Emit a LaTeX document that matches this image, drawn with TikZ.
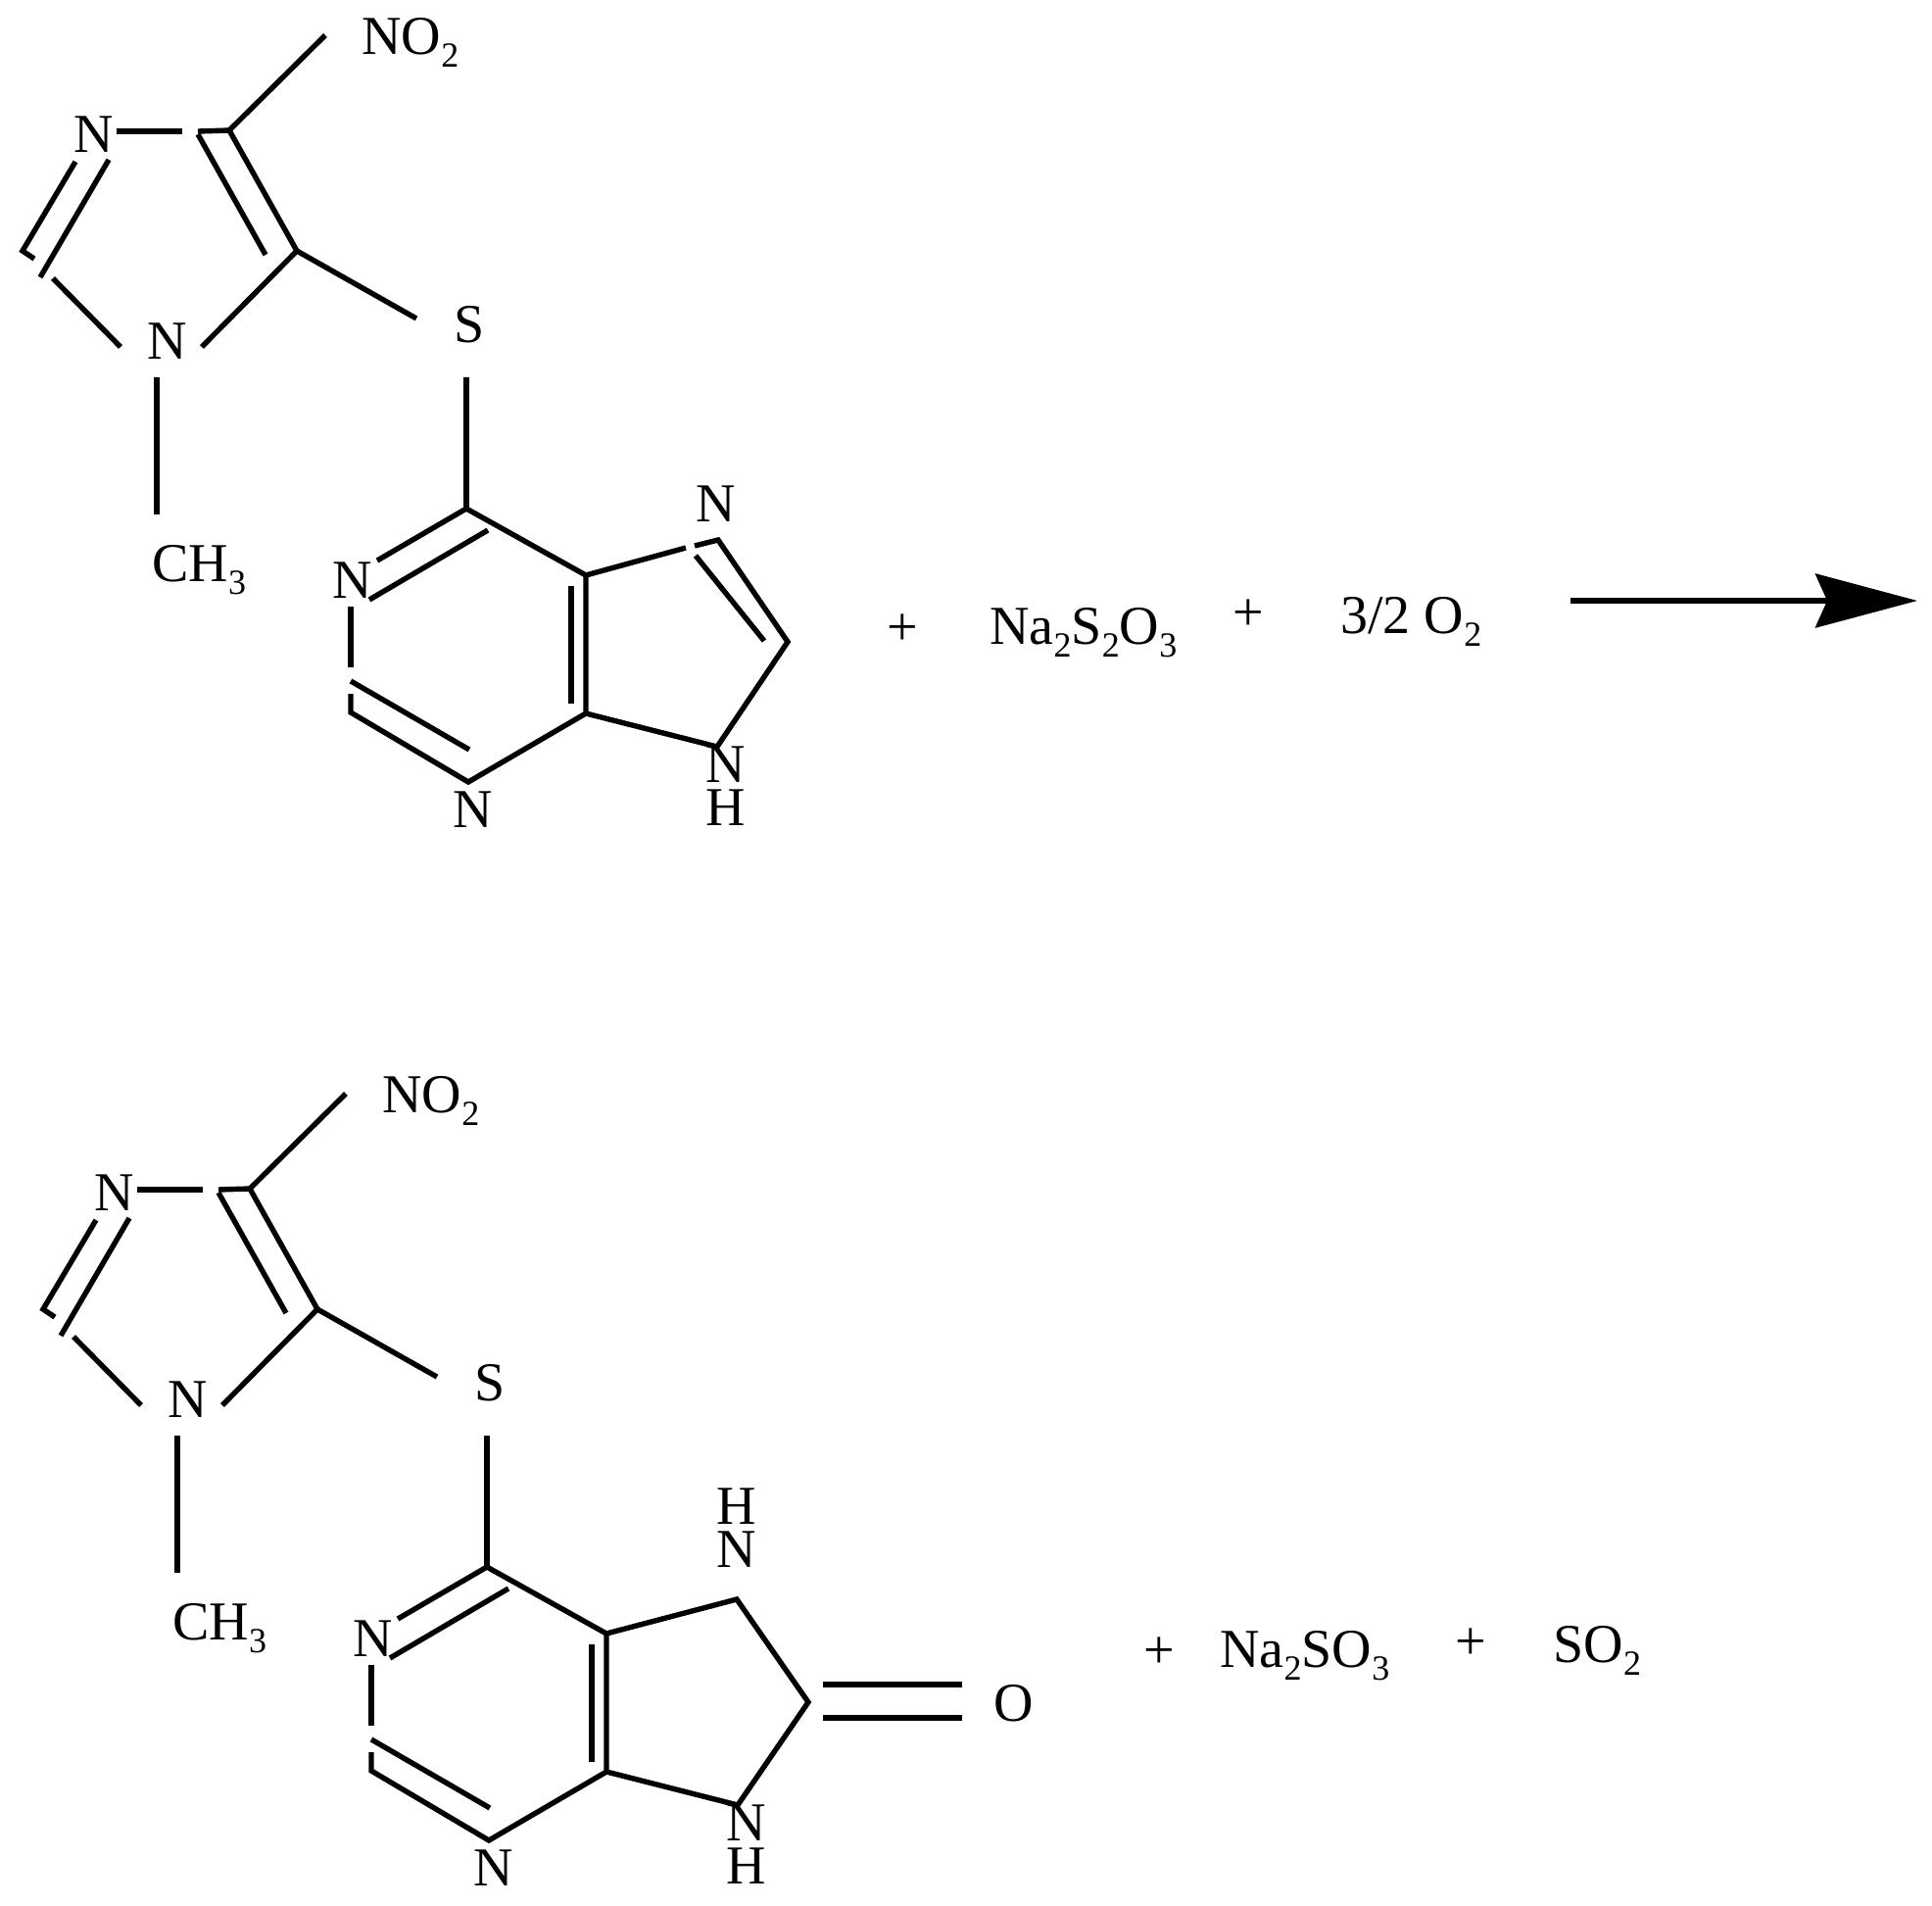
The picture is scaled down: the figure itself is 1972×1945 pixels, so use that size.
\documentclass[tikz,border=0pt]{standalone}
\usepackage{fontspec}
\setmainfont{Liberation Serif}
\usetikzlibrary{arrows.meta}
\newcommand{\sbs}[1]{\raisebox{-0.24em}{\fontsize{18}{18}\selectfont #1}}
\tikzset{
  bond/.style={line width=2.7pt},
  atom/.style={inner sep=0pt,font=\fontsize{28}{28}\selectfont},
  stack/.style={inner sep=0pt,align=center,font=\fontsize{28}{22}\selectfont},
  formula/.style={atom,anchor=base west}
}

\begin{document}
\begin{tikzpicture}[x=0.5pt,y=-0.5pt]
    \useasboundingbox (0,0) rectangle (1972,1945);
    \foreach \m/\dx/\dy in {t/0/-1,b/21/1079}
    { \begin{scope}[shift={(\dx,\dy)},name prefix=\m-]
        % imidazole part
        \coordinate (cfour) at (234,134);
        \coordinate (cfive) at (303,257);
        \coordinate (ctwo) at (23,257);
        \coordinate (ctwoi) at (35,265);
        \coordinate (nthreer) at (119,135);
        \coordinate (nthreem) at (186,135);
        \coordinate (cfourm) at (202,135);
        \coordinate (nthreel) at (77,166);
        \coordinate (nthreei) at (111,164);
        \coordinate (ctwoo) at (41,284);
        \coordinate (ctwob) at (54,285);
        \coordinate (nonel) at (123,355);
        \coordinate (noner) at (206,355);
        \coordinate (noneb) at (160,386);
        \coordinate (metht) at (160,526);
        \coordinate (nitro) at (332,37);
        \coordinate (cfouri) at (202,138);
        \coordinate (cfivei) at (271,261);
        \coordinate (sulfl) at (425,326);
        \coordinate (sulfb) at (476,386);
        % pyrimidine part
        \coordinate (csix) at (476,520);
        \coordinate (nsevr) at (385,573);
        \coordinate (csixi) at (498,542);
        \coordinate (nsevi) at (377,613);
        \coordinate (cjoina) at (598,588);
        \coordinate (cjoinb) at (598,729);
        \coordinate (cjoinc) at (583,599);
        \coordinate (cjoind) at (583,719);
        \coordinate (cbot) at (478,799);
        \coordinate (cleft) at (358,728);
        \coordinate (cleftt) at (358,709);
        \coordinate (nsevb) at (358,620);
        \coordinate (nsevc) at (358,682);
        \coordinate (clefti) at (358,696);
        \coordinate (cboti) at (479,766);
        \coordinate (nhtop) at (732,763);
        \node[atom] (nthree) at (96,138) {N};
        \node[atom] (none) at (171,349) {N};
        \node[atom] (sulf) at (479,332) {S};
        \node[atom] (nsev) at (360,593) {N};
        \node[atom] (nbot) at (483,827) {N};
        \node[stack] (nh) at (741,803) {N\\H};
        \node[formula] (no) at (369,56) {NO\sbs{2}};
        \node[formula] (meth) at (155,594) {CH\sbs{3}};
        \draw [bond] (nthreer) -- (nthreem);
        \draw [bond] (cfourm) -- (cfour) -- (cfive) -- (noner);
        \draw [bond] (cfour) -- (nitro);
        \draw [bond] (cfouri) -- (cfivei);
        \draw [bond] (cfive) -- (sulfl);
        \draw [bond] (nthreel) -- (ctwo) -- (ctwoi);
        \draw [bond] (nthreei) -- (ctwoo);
        \draw [bond] (ctwob) -- (nonel);
        \draw [bond] (noneb) -- (metht);
        \draw [bond] (sulfb) -- (csix);
        \draw [bond] (nsevr) -- (csix) -- (cjoina) -- (cjoinb) -- (cbot) -- (cleft) -- (cleftt);
        \draw [bond] (csixi) -- (nsevi);
        \draw [bond] (cjoinc) -- (cjoind);
        \draw [bond] (nsevb) -- (nsevc);
        \draw [bond] (clefti) -- (cboti);
        \draw [bond] (cjoinb) -- (nhtop);
      \end{scope}
    }
    % five ring of the first molecule
    \coordinate (ringa) at (700,559);
    \coordinate (ringb) at (709,557);
    \coordinate (ringc) at (733,551);
    \coordinate (ringd) at (804,655);
    \coordinate (ringe) at (710,567);
    \coordinate (ringf) at (780,654);
    \node[atom] (nring) at (731,514) {N};
    \draw [bond] (t-cjoina) -- (ringa);
    \draw [bond] (ringb) -- (ringc) -- (ringd) -- (t-nhtop);
    \draw [bond] (ringe) -- (ringf);
    % five ring of the second molecule
    \coordinate (ketoa) at (752,1632);
    \coordinate (ketob) at (825,1737);
    \coordinate (ketoc) at (840,1719);
    \coordinate (ketod) at (982,1719);
    \coordinate (ketoe) at (840,1753);
    \coordinate (ketof) at (982,1753);
    \node[stack] (hring) at (752,1559) {H\\N};
    \node[atom] (oxy) at (1035,1738) {O};
    \draw [bond] (b-cjoina) -- (ketoa) -- (ketob) -- (b-nhtop);
    \draw [bond] (ketoc) -- (ketod);
    \draw [bond] (ketoe) -- (ketof);
    % the other species and the arrow
    \node[atom] (plusa) at (921,643) {+};
    \node[formula] (thio) at (1010,657) {Na\sbs{2}S\sbs{2}O\sbs{3}};
    \node[atom] (plusb) at (1274,628) {+};
    \node[formula] (oxtwo) at (1368,646) {3/2 O\sbs{2}};
    \coordinate (arrowa) at (1603,613);
    \coordinate (arrowb) at (1957,613);
    \draw [bond,-{Stealth[length=52pt,width=27.5pt,inset=6pt]}] (arrowa) -- (arrowb);
    \node[atom] (plusc) at (1183,1687) {+};
    \node[formula] (sulfite) at (1245,1701) {Na\sbs{2}SO\sbs{3}};
    \node[atom] (plusd) at (1501,1678) {+};
    \node[formula] (sotwo) at (1585,1696) {SO\sbs{2}};
\end{tikzpicture}
\end{document}
